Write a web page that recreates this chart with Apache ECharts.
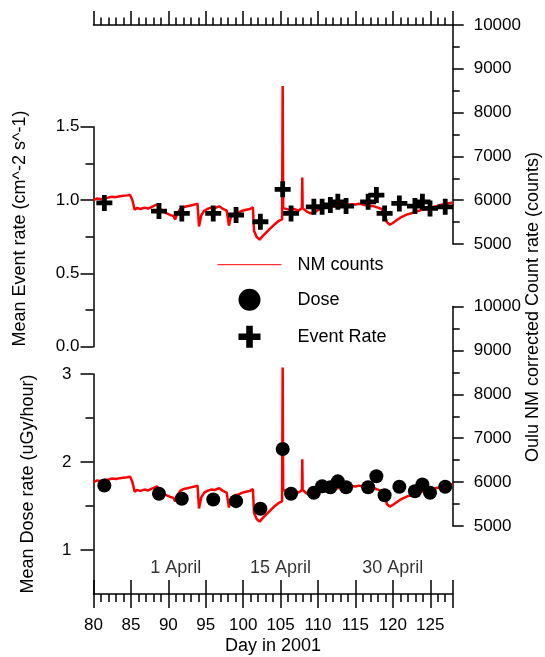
<!DOCTYPE html>
<html>
<head>
<meta charset="utf-8">
<script src="https://cdn.jsdelivr.net/npm/echarts@6/dist/echarts.min.js"></script>
<style>
  html, body { margin: 0; padding: 0; background: #fff; }
  #chart { width: 545px; height: 657px; }
</style>
</head>
<body>
<div id="chart"></div>
<script>
var myChart = echarts.init(document.getElementById('chart'));

// Oulu neutron monitor, corrected count rate
var nmDays = [
  80.0, 80.5, 81.0, 81.5, 82.0, 82.5, 83.0, 83.5, 84.0, 84.5, 84.9, 85.2, 85.5, 85.8,
  86.3, 86.8, 87.3, 87.8, 88.2, 88.5, 88.9, 89.3, 89.8, 90.3, 90.7, 90.9, 91.2, 91.6,
  92.0, 92.5, 93.0, 93.5, 93.9, 94.1, 94.4, 94.8, 95.2, 95.7, 96.2, 96.8, 97.3, 97.8,
  98.1, 98.4, 98.9, 99.4, 99.9, 100.4, 100.9, 101.3, 101.45, 101.8, 102.2, 102.6, 103.0,
  103.6, 104.2, 104.7, 105.2, 105.28, 105.35, 105.6, 106.2, 106.8, 107.4, 107.85, 107.9,
  107.95, 108.5, 109.0, 109.5, 110.0, 110.5, 111.0, 111.5, 112.0, 112.5, 113.0, 113.5,
  114.0, 114.5, 115.0, 115.5, 116.0, 116.5, 117.0, 117.5, 118.0, 118.5, 118.9, 119.2,
  119.6, 120.0, 120.5, 121.0, 121.5, 122.0, 122.5, 123.0, 123.5, 124.0, 124.5, 125.0,
  125.5, 126.0, 126.5, 127.0, 127.5, 128.0
];
var nmCounts = [
  6000, 6040, 6020, 6050, 6060, 6080, 6070, 6090, 6100, 6110, 6120, 6000, 5780, 5820,
  5800, 5830, 5810, 5850, 5880, 5900, 5800, 5740, 5700, 5660, 5640, 5560, 5700, 5800,
  5840, 5860, 5880, 5900, 5920, 5400, 5650, 5760, 5800, 5830, 5820, 5860, 5800, 5760,
  5420, 5650, 5700, 5720, 5760, 5780, 5800, 5840, 5300, 5160, 5100, 5180, 5250,
  5350, 5450, 5520, 5560, 8610, 5820, 5800, 5780, 5800, 5760, 5820, 6520,
  5820, 5740, 5700, 5720, 5770, 5820, 5840, 5830, 5860, 5850, 5880, 5900,
  5890, 5910, 5900, 5920, 5900, 5880, 5870, 5860, 5830, 5800, 5700, 5500,
  5440, 5480, 5540, 5600, 5640, 5680, 5700, 5740, 5760, 5790, 5800, 5820,
  5850, 5870, 5900, 5910, 5930, 5950
];

// flight days with dose / event rate measurements
var flightDays = [81.45, 88.75, 91.8, 96.0, 99.05, 102.3, 105.28, 106.4, 109.45, 110.55,
  111.65, 112.65, 113.75, 116.7, 117.8, 118.9, 120.87, 122.95, 123.95, 124.97, 127.0];
var eventRate = [0.98, 0.925, 0.909, 0.909, 0.898, 0.852, 1.073, 0.909, 0.954, 0.954,
  0.966, 0.988, 0.959, 0.988, 1.034, 0.909, 0.977, 0.959, 0.988, 0.943, 0.954];
var doseRate = [1.733, 1.639, 1.582, 1.574, 1.555, 1.469, 2.148, 1.639, 1.65, 1.725,
  1.713, 1.78, 1.713, 1.713, 1.838, 1.623, 1.718, 1.668, 1.744, 1.65, 1.718];

var dateMarkDays = [91, 105, 120];
var dateMarkText = ['1 April', '15 April', '30 April'];
var dateMarkLevel = 0.8;

var FONT = 'Liberation Sans, Arial, sans-serif';
var crossPath = 'path://M35,0H65V35H100V65H65V100H35V65H0V35H35Z';

var nmData = nmDays.map(function (d, i) { return [d, nmCounts[i]]; });
var eventData = flightDays.map(function (d, i) { return [d, eventRate[i]]; });
var doseData = flightDays.map(function (d, i) { return [d, doseRate[i]]; });
var markData = dateMarkDays.map(function (d, i) {
  return { value: [d, dateMarkLevel], name: dateMarkText[i] };
});

var black = { color: '#000', width: 1.5 };
var gridBox = { left: 93.5, width: 359.2 };

function hiddenX(gi) {
  return { type: 'value', gridIndex: gi, min: 80, max: 128, show: false };
}
function nmAxis(gi) {
  return {
    type: 'value', gridIndex: gi, position: 'right', min: 5000, max: 10000, interval: 1000,
    axisLine: { show: true, lineStyle: black },
    axisTick: { show: true, length: 11, lineStyle: black },
    minorTick: { show: true, splitNumber: 2, length: 7, lineStyle: black },
    axisLabel: {
      margin: 21, fontSize: 17, color: '#000', fontFamily: FONT,
      formatter: function (v) { return String(v); }
    },
    splitLine: { show: false }
  };
}

option = {
  animation: false,
  backgroundColor: '#fff',
  grid: [
    Object.assign({ top: 126.7, height: 220 }, gridBox),
    Object.assign({ top: 25, height: 219 }, gridBox),
    Object.assign({ top: 374, height: 220 }, gridBox),
    Object.assign({ top: 306.5, height: 219.5 }, gridBox),
    Object.assign({ top: 374, height: 220 }, gridBox)
  ],
  xAxis: [
    hiddenX(0),
    {
      type: 'value', gridIndex: 1, position: 'top', min: 80, max: 128, interval: 5,
      axisLine: { show: true, lineStyle: black },
      axisTick: { show: true, length: 14, lineStyle: black },
      minorTick: { show: true, splitNumber: 5, length: 7.5, lineStyle: black },
      axisLabel: { show: false },
      splitLine: { show: false }
    },
    {
      type: 'value', gridIndex: 2, position: 'bottom', min: 80, max: 128, interval: 5,
      name: 'Day in 2001', nameLocation: 'middle', nameGap: 43,
      nameTextStyle: { fontSize: 18, color: '#000', fontFamily: FONT },
      axisLine: { show: true, lineStyle: black },
      axisTick: { show: true, length: 14, lineStyle: black },
      minorTick: { show: true, splitNumber: 5, length: 8, lineStyle: black },
      axisLabel: {
        margin: 23, fontSize: 17, color: '#000', fontFamily: FONT,
        showMinLabel: true, showMaxLabel: false
      },
      splitLine: { show: false }
    },
    hiddenX(3),
    {
      type: 'value', gridIndex: 4, position: 'bottom', min: 80, max: 128, interval: 5,
      axisLine: { show: false },
      axisTick: { show: true, inside: true, length: 14, lineStyle: black },
      axisLabel: { show: false },
      splitLine: { show: false }
    }
  ],
  yAxis: [
    {
      type: 'value', gridIndex: 0, position: 'left', min: 0, max: 1.5, interval: 0.5,
      axisLine: { show: true, lineStyle: black },
      axisTick: { show: true, length: 13, lineStyle: black },
      minorTick: { show: true, splitNumber: 2, length: 8, lineStyle: black },
      axisLabel: {
        margin: 14, fontSize: 17, color: '#000', fontFamily: FONT,
        formatter: function (v) { return v.toFixed(1); }
      },
      splitLine: { show: false }
    },
    nmAxis(1),
    {
      type: 'value', gridIndex: 2, position: 'left', min: 0.5, max: 3,
      name: 'Mean Dose rate (uGy/hour)', nameLocation: 'middle', nameGap: 56.5,
      nameTextStyle: { fontSize: 18, color: '#000', fontFamily: FONT },
      axisLine: { show: true, lineStyle: black },
      axisTick: { show: true, length: 13, lineStyle: black, customValues: [1, 2, 3] },
      axisLabel: {
        margin: 22, fontSize: 17, color: '#000', fontFamily: FONT,
        customValues: [1, 2, 3]
      },
      splitLine: { show: false }
    },
    nmAxis(3),
    {
      type: 'value', gridIndex: 4, position: 'left', min: 0.5, max: 3,
      axisLine: { show: false },
      axisTick: { show: true, length: 8, lineStyle: black, customValues: [1.5, 2.5] },
      axisLabel: { show: false },
      splitLine: { show: false }
    }
  ],
  legend: {
    orient: 'vertical',
    left: 212,
    top: 250.7,
    itemWidth: 64,
    itemHeight: 22,
    itemGap: 15,
    lineStyle: { width: 1 },
    formatter: '{t|{name}}',
    textStyle: {
      color: '#000', fontSize: 18, fontFamily: FONT,
      rich: { t: { fontSize: 18, fontFamily: FONT, color: '#000', padding: [0, 0, 0, 11] } }
    },
    data: [
      { name: 'NM counts', itemStyle: { opacity: 0 } },
      { name: 'Dose', icon: 'circle' },
      { name: 'Event Rate', icon: crossPath }
    ]
  },
  graphic: [
    {
      type: 'text', x: 20.5, y: 228.5, rotation: Math.PI / 2,
      style: {
        text: 'Mean Event rate (cm^-2 s^-1)', fill: '#000', fontSize: 18, fontFamily: FONT,
        align: 'center', verticalAlign: 'middle'
      }
    },
    {
      type: 'text', x: 533, y: 307, rotation: Math.PI / 2,
      style: {
        text: 'Oulu NM corrected Count rate (counts)', fill: '#000', fontSize: 18, fontFamily: FONT,
        align: 'center', verticalAlign: 'middle'
      }
    }
  ],
  series: [
    {
      name: 'NM counts', type: 'line', xAxisIndex: 1, yAxisIndex: 1,
      data: nmData, symbol: 'none', showSymbol: false,
      lineStyle: { color: '#ff0000', width: 2.5 }, itemStyle: { color: '#ff0000' },
      z: 2
    },
    {
      name: 'NM counts', type: 'line', xAxisIndex: 3, yAxisIndex: 3,
      data: nmData, symbol: 'none', showSymbol: false,
      lineStyle: { color: '#ff0000', width: 2.5 }, itemStyle: { color: '#ff0000' },
      z: 2
    },
    {
      name: 'Event Rate', type: 'scatter', xAxisIndex: 0, yAxisIndex: 0,
      data: eventData, symbol: crossPath, symbolSize: 16,
      itemStyle: { color: '#000', opacity: 1 }, z: 5
    },
    {
      name: 'Dose', type: 'scatter', xAxisIndex: 2, yAxisIndex: 2,
      data: doseData, symbol: 'circle', symbolSize: 14,
      itemStyle: { color: '#000', opacity: 1 }, z: 5
    },
    {
      name: 'dates', type: 'scatter', xAxisIndex: 2, yAxisIndex: 2,
      data: markData, symbolSize: 1, itemStyle: { color: 'rgba(0,0,0,0)' },
      silent: true,
      label: {
        show: true, position: 'inside', formatter: '{b}',
        fontSize: 18, color: '#000', fontFamily: FONT
      }
    }
  ]
};

myChart.setOption(option);
</script>
</body>
</html>
